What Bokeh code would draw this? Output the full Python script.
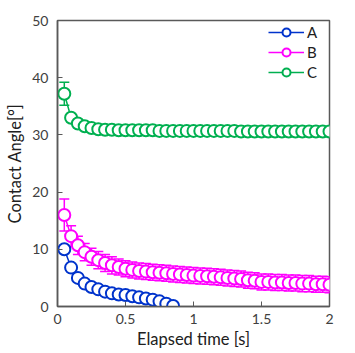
from bokeh.plotting import figure
from bokeh.models import Whisker, ColumnDataSource, FixedTicker, Legend, LegendItem, TeeHead
from bokeh.embed import file_html
from bokeh.resources import INLINE

time_a = [0.05, 0.1, 0.15, 0.2, 0.25, 0.3, 0.35, 0.4, 0.45, 0.5, 0.55, 0.6, 0.65, 0.7, 0.75, 0.8, 0.85]
angle_a = [10.0, 6.8, 5.0, 4.0, 3.4, 3.0, 2.6, 2.3, 2.1, 2.0, 1.8, 1.6, 1.4, 1.2, 0.9, 0.5, 0.1]
err_a = [0.5, 0.4, 0.3, 0.3, 0.2, 0.2, 0.2, 0.2, 0.2, 0.2, 0.2, 0.2, 0.2, 0.2, 0.2, 0.2, 0.2]

time_bc = [round(0.05 * i, 2) for i in range(1, 41)]
angle_b = [16.0, 12.3, 10.7, 9.5, 8.7, 8.1, 7.6, 7.2, 6.9, 6.6,
           6.4, 6.2, 6.1, 6.0, 5.9, 5.8, 5.7, 5.6, 5.5, 5.4,
           5.35, 5.3, 5.2, 5.1, 5.0, 4.9, 4.8, 4.6, 4.5, 4.3,
           4.3, 4.2, 4.2, 4.1, 4.1, 4.0, 4.0, 3.9, 3.9, 3.8]
err_b = [2.8, 1.8, 1.6, 1.5, 1.5, 1.5, 1.5, 1.5, 1.4, 1.4,
         1.4, 1.4, 1.4, 1.4, 1.4, 1.4, 1.4, 1.4, 1.4, 1.4,
         1.4, 1.4, 1.4, 1.4, 1.4, 1.4, 1.4, 1.4, 1.4, 1.4,
         1.4, 1.4, 1.4, 1.4, 1.4, 1.4, 1.4, 1.4, 1.4, 1.4]
angle_c = [37.2, 33.0, 32.0, 31.5, 31.2, 31.0, 30.9, 30.9, 30.8, 30.8,
           30.8, 30.8, 30.8, 30.8, 30.7, 30.7, 30.7, 30.7, 30.7, 30.7,
           30.7, 30.7, 30.7, 30.7, 30.7, 30.7, 30.6, 30.6, 30.6, 30.6,
           30.6, 30.6, 30.6, 30.6, 30.6, 30.6, 30.6, 30.6, 30.6, 30.6]
err_c = [2.0, 0.5, 0.4, 0.3, 0.3, 0.3, 0.3, 0.3, 0.3, 0.3,
         0.3, 0.3, 0.3, 0.3, 0.3, 0.3, 0.3, 0.3, 0.3, 0.3,
         0.3, 0.3, 0.3, 0.3, 0.3, 0.3, 0.3, 0.3, 0.3, 0.3,
         0.3, 0.3, 0.3, 0.3, 0.3, 0.3, 0.3, 0.3, 0.3, 0.3]

x_ticks = [0, 0.5, 1, 1.5, 2]
x_tick_labels = ["0", "0.5", "1", "1.5", "2"]
y_ticks = [0, 10, 20, 30, 40, 50]
series_names = ["A", "B", "C"]
colors = ["#0033cc", "#ff00ff", "#00b050"]

FONT = "Lato"
GRAY = "#595959"

p = figure(width=355, height=353, output_backend="svg", toolbar_location=None,
           x_range=(0, 2), y_range=(0, 50),
           min_border_left=57, min_border_right=26, min_border_top=20, min_border_bottom=47)
p.grid.visible = False
p.outline_line_color = GRAY
p.outline_line_width = 1.5
p.background_fill_color = "white"

for ax in (p.xaxis[0], p.yaxis[0]):
    ax.axis_line_color = GRAY
    ax.axis_line_width = 1.5
    ax.major_tick_line_color = GRAY
    ax.major_tick_in = 5
    ax.major_tick_out = 0
    ax.minor_tick_line_color = None
    ax.major_label_text_font = FONT
    ax.major_label_text_font_size = "14px"
    ax.major_label_text_color = "#404040"
    ax.axis_label_text_font = FONT
    ax.axis_label_text_font_size = "16.5px"
    ax.axis_label_text_font_style = "normal"
    ax.axis_label_text_color = "#202020"

p.xaxis.ticker = FixedTicker(ticks=x_ticks)
p.xaxis.major_label_overrides = {t: l for t, l in zip(x_ticks, x_tick_labels)}
p.yaxis.ticker = FixedTicker(ticks=y_ticks)
p.xaxis.axis_label = "Elapsed time [s]"
p.yaxis.axis_label = "Contact Angle[°]"
p.xaxis.major_label_standoff = 7
p.xaxis.axis_label_standoff = 2
p.yaxis.major_label_standoff = 9
p.yaxis.axis_label_standoff = 4

data = [(time_a, angle_a, err_a), (time_bc, angle_b, err_b), (time_bc, angle_c, err_c)]
items = []
for (xs, ys, es), name, col in zip(data, series_names, colors):
    src = ColumnDataSource(dict(x=xs, y=ys,
                                lo=[y - e for y, e in zip(ys, es)],
                                hi=[y + e for y, e in zip(ys, es)]))
    w = Whisker(source=src, base="x", lower="lo", upper="hi",
                line_color=col, line_width=1.5,
                upper_head=TeeHead(size=10, line_color=col, line_width=1.5),
                lower_head=TeeHead(size=10, line_color=col, line_width=1.5))
    p.add_layout(w)
    l = p.line("x", "y", source=src, line_color=col, line_width=1.5)
    s = p.scatter("x", "y", source=src, size=12, marker="circle",
                  fill_color="white", line_color=col, line_width=2)
    items.append(LegendItem(label=name, renderers=[l, s]))

legend = Legend(items=items, location="top_right",
                label_text_font=FONT, label_text_font_size="15px",
                label_text_color="#202020",
                glyph_width=36, glyph_height=20, spacing=0,
                label_standoff=3, padding=2, margin=2,
                border_line_color=None, background_fill_alpha=0)
p.add_layout(legend)

open("out.html", "w").write(file_html(p, INLINE))
